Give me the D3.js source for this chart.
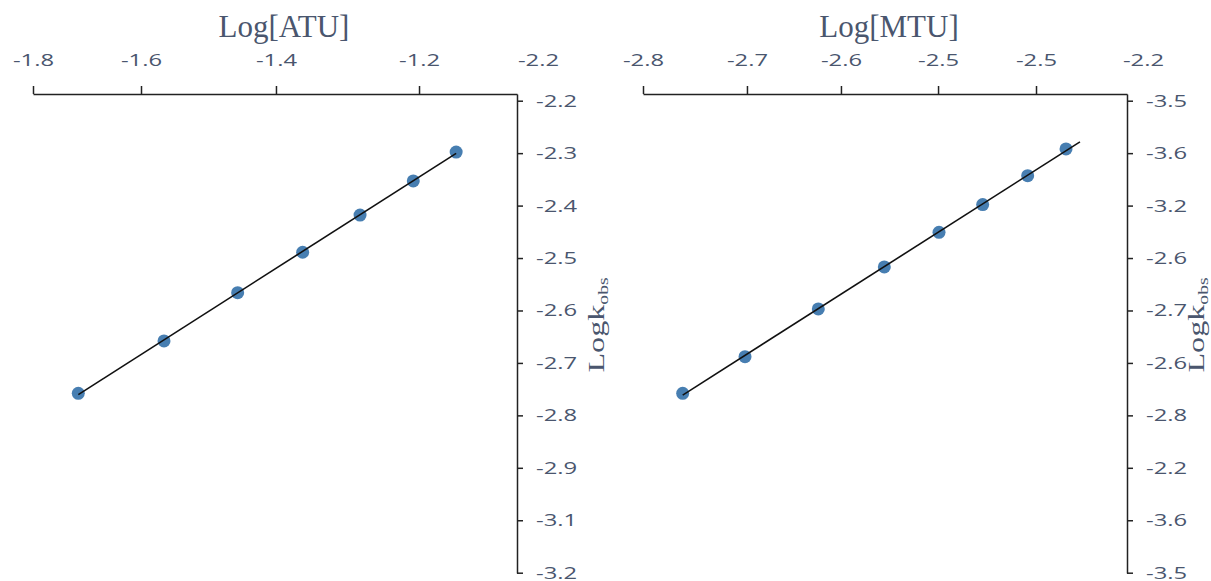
<!DOCTYPE html>
<html>
<head>
<meta charset="utf-8">
<script src="https://cdn.jsdelivr.net/npm/d3@7"></script>
<style>
  html, body { margin: 0; padding: 0; background: #fff; }
  svg { display: block; }
</style>
</head>
<body>
<div id="chart"></div>
<script>
// ---------- data ----------
// Left panel: Log[ATU] vs Logk_obs
const atuX = [-1.7345, -1.6105, -1.504, -1.410, -1.327, -1.250, -1.188];
const atuY = [-2.758, -2.658, -2.566, -2.489, -2.418, -2.353, -2.298];
const atuFitX = [-1.7345, -1.188];
const atuXTicks = [-1.8, -1.6438, -1.4486, -1.2417, -1.0696];
const atuXTickLabels = ["-1.8", "-1.6", "-1.4", "-1.2", "-2.2"];
const atuYTicks = [-2.2, -2.3, -2.4, -2.5, -2.6, -2.7, -2.8, -2.9, -3.0, -3.1];
const atuYTickLabels = ["-2.2", "-2.3", "-2.4", "-2.5", "-2.6", "-2.7", "-2.8", "-2.9", "-3.1", "-3.2"];

// Right panel: Log[MTU] vs Logk_obs
const mtuX = [-2.759, -2.6946, -2.6189, -2.5507, -2.4942, -2.4491, -2.4026, -2.363];
const mtuY = [-4.058, -3.988, -3.897, -3.817, -3.751, -3.698, -3.643, -3.592];
const mtuFitX = [-2.759, -2.3486];
const mtuXTicks = [-2.8, -2.6926, -2.5955, -2.4952, -2.394, -2.2835];
const mtuXTickLabels = ["-2.8", "-2.7", "-2.6", "-2.5", "-2.5", "-2.2"];
const mtuYTicks = [-3.5, -3.6, -3.7, -3.8, -3.9, -4.0, -4.1, -4.2, -4.3, -4.4];
const mtuYTickLabels = ["-3.5", "-3.6", "-3.2", "-2.6", "-2.7", "-2.6", "-2.8", "-2.2", "-3.6", "-3.5"];

const xTitles = ["Log[ATU]", "Log[MTU]"];

// ---------- drawing ----------
const W = 1211, H = 581;
const TEXT = "#4a566e";
const svg = d3.select("#chart").append("svg").attr("width", W).attr("height", H);

function regression(xs, ys) {
  const mx = d3.mean(xs), my = d3.mean(ys);
  let num = 0, den = 0;
  xs.forEach((x, i) => { num += (x - mx) * (ys[i] - my); den += (x - mx) * (x - mx); });
  const b = num / den;
  return { a: my - b * mx, b };
}

function panel(cfg) {
  const x = d3.scaleLinear().domain(cfg.xDomain).range(cfg.xRange);
  const y = d3.scaleLinear().domain(cfg.yDomain).range([94, 573]);
  const g = svg.append("g");

  // top x axis
  const gx = g.append("g")
    .attr("transform", "translate(0,94)")
    .call(d3.axisTop(x).tickValues(cfg.xTicks)
      .tickFormat((d, i) => cfg.xLabels[i])
      .tickSize(8).tickPadding(20).tickSizeOuter(0));
  gx.selectAll(".tick").filter((d, i) => i === cfg.xTicks.length - 1).select("line").remove();
  gx.selectAll(".tick text").attr("transform", "scale(1.4,1)");

  // right y axis
  const gy = g.append("g")
    .attr("transform", `translate(${cfg.xRange[1]},0)`)
    .call(d3.axisRight(y).tickValues(cfg.yTicks)
      .tickFormat((d, i) => cfg.yLabels[i])
      .tickSize(6).tickPadding(13).tickSizeOuter(0));
  gy.selectAll(".tick text").each(function () {
    const t = d3.select(this);
    const tx = +t.attr("x");
    t.attr("x", 0).attr("transform", `translate(${tx},0) scale(1.4,1)`);
  });

  [gx, gy].forEach(a => {
    a.selectAll(".domain, .tick line").attr("stroke", "#222").attr("stroke-width", 1.5);
    a.selectAll(".tick text").attr("fill", TEXT)
      .style("font-family", "'Open Sans', sans-serif").style("font-size", "17px");
  });

  // points
  g.append("g").selectAll("circle").data(cfg.xs).join("circle")
    .attr("cx", d => x(d)).attr("cy", (d, i) => y(cfg.ys[i]))
    .attr("r", 6.5).attr("fill", "#3d77ad").attr("fill-opacity", 0.95);

  // fit line
  const fit = regression(cfg.xs, cfg.ys);
  g.append("path")
    .datum(cfg.fitX.map(v => [v, fit.a + fit.b * v]))
    .attr("d", d3.line().x(d => x(d[0])).y(d => y(d[1])))
    .attr("fill", "none").attr("stroke", "#111").attr("stroke-width", 1.6);

  // titles
  g.append("text").attr("x", cfg.titleX).attr("y", 37)
    .attr("text-anchor", "middle").attr("fill", TEXT)
    .style("font-family", "'Liberation Serif', serif").style("font-size", "31px")
    .text(cfg.title);

  const yt = g.append("text")
    .attr("transform", `translate(${cfg.yTitleX},325) rotate(-90) scale(1.4,1)`)
    .attr("text-anchor", "middle").attr("fill", TEXT)
    .style("font-family", "'Liberation Serif', serif").style("font-size", "23px");
  yt.append("tspan").text("Logk");
  yt.append("tspan").attr("dy", 4).style("font-size", "14px").text("obs");
}

panel({
  xs: atuX, ys: atuY, fitX: atuFitX,
  xDomain: [-1.8, -1.1], xRange: [33, 517],
  yDomain: [-2.18722, -3.10057],
  xTicks: atuXTicks, xLabels: atuXTickLabels,
  yTicks: atuYTicks, yLabels: atuYTickLabels,
  title: xTitles[0], titleX: 284, yTitleX: 604
});
panel({
  xs: mtuX, ys: mtuY, fitX: mtuFitX,
  xDomain: [-2.8, -2.3], xRange: [643, 1127],
  yDomain: [-3.48722, -4.40057],
  xTicks: mtuXTicks, xLabels: mtuXTickLabels,
  yTicks: mtuYTicks, yLabels: mtuYTickLabels,
  title: xTitles[1], titleX: 889, yTitleX: 1204
});
</script>
</body>
</html>
